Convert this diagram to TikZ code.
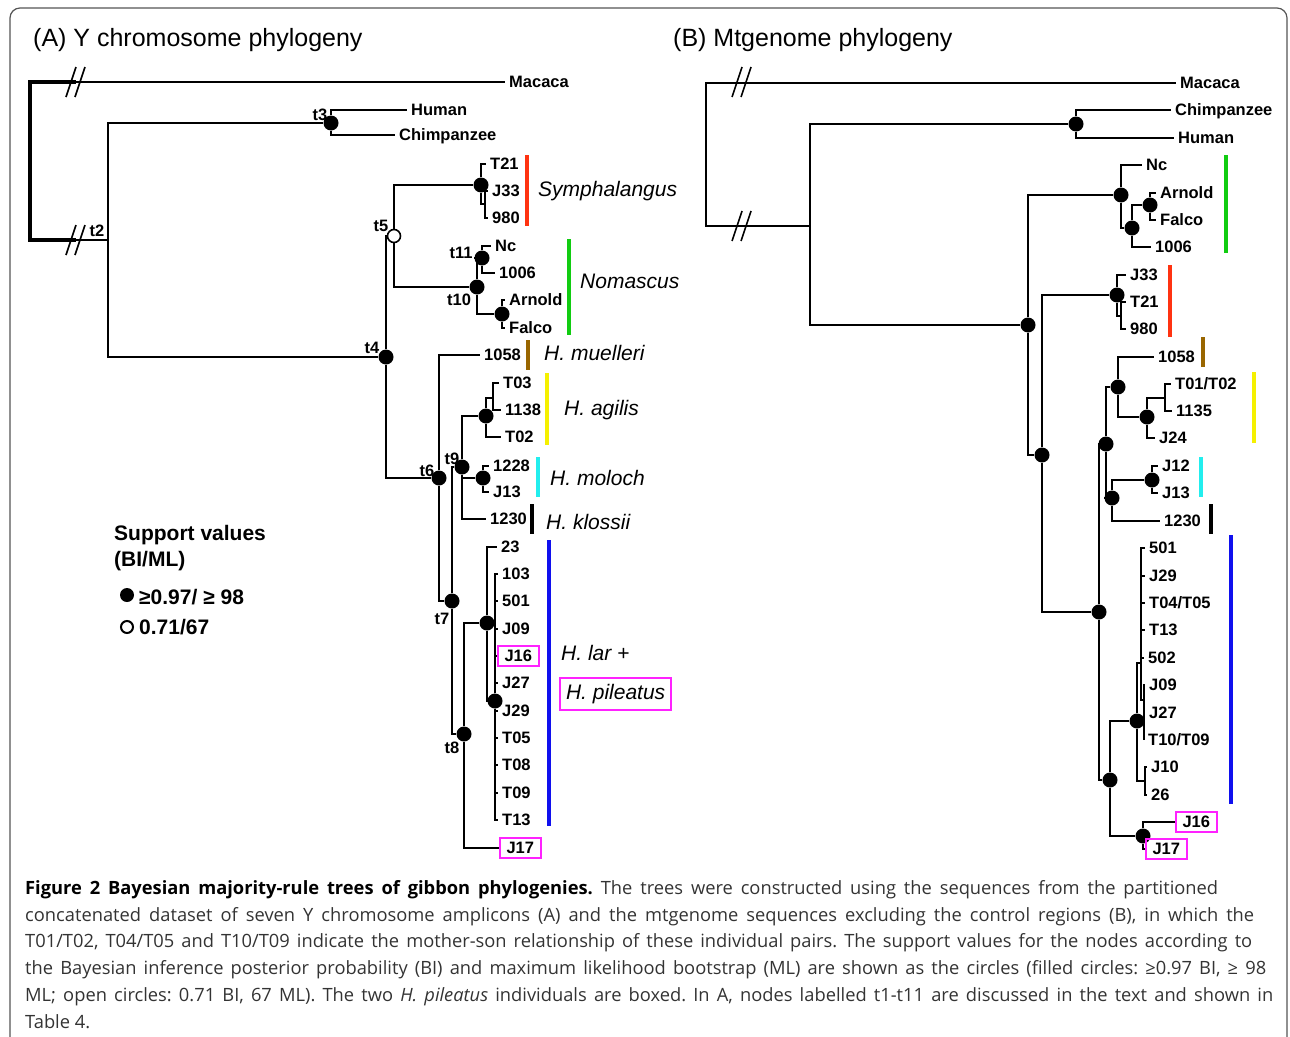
\documentclass[tikz,border=0pt]{standalone}
\usepackage{fontspec}
\setmainfont{Liberation Sans}
\newfontfamily\capfamily{Open Sans}
\newcommand\tipfont{\fontsize{16.5}{18}\selectfont\bfseries}
\newcommand\spcfont{\fontsize{21}{24}\selectfont\itshape}
\newcommand\ttlfont{\fontsize{25}{28}\selectfont}
\newcommand\legfont{\fontsize{21}{26}\selectfont\bfseries}
\newcommand\capfont{\capfamily\fontsize{18.3}{26.8}\selectfont\frenchspacing}
\definecolor{symred}{HTML}{FF3311}
\definecolor{nomgreen}{HTML}{11CC11}
\definecolor{muebrown}{HTML}{996600}
\definecolor{agiyellow}{HTML}{F5F000}
\definecolor{molcyan}{HTML}{22EEEE}
\definecolor{larblue}{HTML}{1010EE}
\definecolor{pilpink}{HTML}{FF22FF}
\definecolor{framegray}{HTML}{555555}
\definecolor{captext}{HTML}{333333}
\tikzset{
  leaf/.style={font=\tipfont, anchor=west, inner xsep=4pt, inner ysep=0pt, text height=11.8pt, text depth=0pt},
  boxed/.style={leaf, draw=pilpink, line width=2pt, inner xsep=6.5pt, inner ysep=4.5pt},
  tlab/.style={font=\tipfont, inner sep=0pt},
  hit/.style={circle, fill=black, inner sep=0pt, minimum size=15pt},
  weak/.style={circle, draw=black, fill=white, line width=1.6pt, inner sep=0pt, minimum size=13pt},
  spc/.style={font=\spcfont, anchor=west, inner sep=0pt, text height=15pt, text depth=0pt},
  bar/.style={line width=4.5pt},
  brk/.style={line width=1.6pt},
  branch/.style={line width=2pt},
  capline/.style={font=\capfont, anchor=north west, inner sep=0pt, align=left, text=captext}
}
\begin{document}
\begin{tikzpicture}[x=1pt,y=-1pt]
\useasboundingbox (0,0) rectangle (1290,1036);
\draw[framegray, line width=1.2pt, rounded corners=10pt] (10,1050) -- (10,8) -- (1287,8) -- (1287,1050);

\node[font=\ttlfont, anchor=west, inner sep=0pt, text height=17.9pt, text depth=0pt] (ttlA) at (33,38) {(A) Y chromosome phylogeny};
\node[font=\ttlfont, anchor=west, inner sep=0pt, text height=17.9pt, text depth=0pt] (ttlB) at (673,38) {(B) Mtgenome phylogeny};

\coordinate (ra) at (30,161);
\coordinate (ba1) at (76,82);
\coordinate (ba2) at (76,240);
\coordinate (t2) at (108,240);
\node[hit] (t3) at (331,123) {};
\node[hit] (t4) at (386,357) {};
\node[weak] (t5) at (394,236) {};
\node[hit] (sym) at (481,185) {};
\coordinate (sy2) at (485,204);
\node[hit] (t10) at (477,287) {};
\node[hit] (t11) at (482,258) {};
\node[hit] (arn) at (502,314) {};
\node[hit] (t6) at (439,478) {};
\node[hit] (t7) at (452,601) {};
\node[hit] (t9) at (462,467) {};
\node[hit] (agi) at (486,416) {};
\coordinate (ag2) at (493,398);
\node[hit] (mol) at (483,478) {};
\node[hit] (t8) at (464,734) {};
\node[hit] (lar) at (487,623) {};
\node[hit] (la2) at (495,701) {};

\draw
  (505,82) node[leaf] (macA) {Macaca}
  (407,110) node[leaf] (humA) {Human}
  (395,135) node[leaf] (chiA) {Chimpanzee}
  (486,164) node[leaf] (T21A) {T21}
  (488,191) node[leaf] (J33A) {J33}
  (488,218) node[leaf] (s980A) {980}
  (491,246) node[leaf] (NcA) {Nc}
  (495,273) node[leaf] (s1006A) {1006}
  (505,300) node[leaf] (ArnA) {Arnold}
  (505,328) node[leaf] (FalA) {Falco}
  (480,355) node[leaf] (s1058A) {1058}
  (499,383) node[leaf] (T03A) {T03}
  (501,410) node[leaf] (s1138A) {1138}
  (501,437) node[leaf] (T02A) {T02}
  (489,466) node[leaf] (s1228A) {1228}
  (489,492) node[leaf] (J13A) {J13}
  (486,519) node[leaf] (s1230A) {1230}
  (497,547) node[leaf] (s23A) {23}
  (498,574) node[leaf] (s103A) {103}
  (498,601) node[leaf] (s501A) {501}
  (498,629) node[leaf] (J09A) {J09}
  (497,656) node[boxed] (J16A) {J16}
  (498,683) node[leaf] (J27A) {J27}
  (498,711) node[leaf] (J29A) {J29}
  (498,738) node[leaf] (T05A) {T05}
  (498,765) node[leaf] (T08A) {T08}
  (498,793) node[leaf] (T09A) {T09}
  (498,820) node[leaf] (T13A) {T13}
  (499,848) node[boxed] (J17A) {J17};

\draw
  (97,231) node[tlab] (lt2) {t2}
  (320,115) node[tlab] (lt3) {t3}
  (372,348) node[tlab] (lt4) {t4}
  (381,226) node[tlab] (lt5) {t5}
  (427,471) node[tlab] (lt6) {t6}
  (442,619) node[tlab] (lt7) {t7}
  (452,748) node[tlab] (lt8) {t8}
  (452,459) node[tlab] (lt9) {t9}
  (459,300) node[tlab] (lt10) {t10}
  (461,253) node[tlab] (lt11) {t11};

\begin{scope}[branch]
  \draw[line width=3.5pt] (ba1) -| (ra) |- (ba2);
  \draw (ba1) -- (macA);
  \draw (ba2) -- (t2);
  \draw (t2) |- (t3);
  \draw (t2) |- (t4);
  \draw (t3) |- (humA);
  \draw (t3) |- (chiA);
  \draw (t4) |- (t5);
  \draw (t4) |- (t6);
  \draw (t5) |- (sym);
  \draw (t5) |- (t10);
  \draw (sym) |- (T21A);
  \draw (sym) |- (sy2);
  \draw (sy2) |- (J33A);
  \draw (sy2) |- (s980A);
  \draw (t10) |- (t11);
  \draw (t10) |- (arn);
  \draw (t11) |- (NcA);
  \draw (t11) |- (s1006A);
  \draw (arn) |- (ArnA);
  \draw (arn) |- (FalA);
  \draw (t6) |- (s1058A);
  \draw (t6) |- (t7);
  \draw (t7) |- (t9);
  \draw (t7) |- (t8);
  \draw (t9) |- (agi);
  \draw (t9) |- (mol);
  \draw (t9) |- (s1230A);
  \draw (agi) |- (ag2);
  \draw (ag2) |- (T03A);
  \draw (ag2) |- (s1138A);
  \draw (agi) |- (T02A);
  \draw (mol) |- (s1228A);
  \draw (mol) |- (J13A);
  \draw (t8) |- (lar);
  \draw (t8) |- (J17A);
  \draw (lar) |- (s23A);
  \draw (lar) |- (la2);
  \draw (la2) |- (s103A);
  \draw (la2) |- (s501A);
  \draw (la2) |- (J09A);
  \draw (la2) |- (J16A);
  \draw (la2) |- (J27A);
  \draw (la2) |- (J29A);
  \draw (la2) |- (T05A);
  \draw (la2) |- (T08A);
  \draw (la2) |- (T09A);
  \draw (la2) |- (T13A);
\end{scope}

\draw[bar, symred] (527,155) -- (527,226);
\draw[bar, nomgreen] (569,239) -- (569,335);
\draw[bar, muebrown] (528,340) -- (528,370);
\draw[bar, agiyellow] (547,373) -- (547,445);
\draw[bar, molcyan] (538,457) -- (538,497);
\draw[bar, black, line width=3.5pt] (532,504) -- (532,534);
\draw[bar, larblue] (549,540) -- (549,826);

\draw
  (538,189) node[spc] (spSym) {Symphalangus}
  (580,281) node[spc] (spNom) {Nomascus}
  (544,353) node[spc] (spMue) {H. muelleri}
  (564,408) node[spc] (spAgi) {H. agilis}
  (550,478) node[spc] (spMol) {H. moloch}
  (546,522) node[spc] (spKlo) {H. klossii}
  (561,653) node[spc] (spLar) {H. lar +}
  (559,694) node[spc, draw=pilpink, line width=2pt, inner xsep=6pt, inner ysep=6pt, text depth=4.5pt] (spPil) {H. pileatus};

\node[font=\legfont, anchor=west, inner sep=0pt, align=left] (legT) at (114,548) {Support values\\(BI/ML)};
\node[hit, minimum size=14pt] (legF) at (127,595) {};
\node[font=\legfont, anchor=west, inner sep=0pt, text height=15pt, text depth=0pt] (legFt) at (139,597) {≥0.97/ ≥ 98};
\node[weak, minimum size=12pt, line width=2pt] (legO) at (127,627) {};
\node[font=\legfont, anchor=west, inner sep=0pt, text height=15pt, text depth=0pt] (legOt) at (139,627) {0.71/67};

\coordinate (rb) at (706,154);
\coordinate (bb1) at (742,82);
\coordinate (bb2) at (742,226);
\coordinate (b1) at (810,226);
\node[hit] (b2) at (1076,124) {};
\node[hit] (b3) at (1028,325) {};
\node[hit] (nom) at (1121,195) {};
\node[hit] (nm2) at (1132,228) {};
\node[hit] (arB) at (1150,205) {};
\node[hit] (b4) at (1042,455) {};
\node[hit] (syB) at (1117,295) {};
\coordinate (sb2) at (1121,316);
\node[hit] (b5) at (1099,612) {};
\node[hit] (b6) at (1106,444) {};
\node[hit] (b7) at (1118,387) {};
\node[hit] (agB) at (1147,417) {};
\coordinate (ag2B) at (1165,398);
\node[hit] (b8) at (1112,498) {};
\node[hit] (moB) at (1152,480) {};
\node[hit] (b9) at (1110,780) {};
\node[hit] (larB) at (1137,721) {};
\coordinate (lb1) at (1141,663);
\coordinate (lb2) at (1144,700);
\coordinate (lb3) at (1145,781);
\node[hit] (pilB) at (1143,836) {};

\draw
  (1176,83) node[leaf] (macB) {Macaca}
  (1171,110) node[leaf] (chiB) {Chimpanzee}
  (1174,138) node[leaf] (humB) {Human}
  (1142,165) node[leaf] (NcB) {Nc}
  (1156,193) node[leaf] (ArnB) {Arnold}
  (1156,220) node[leaf] (FalB) {Falco}
  (1151,247) node[leaf] (s1006B) {1006}
  (1126,275) node[leaf] (J33B) {J33}
  (1126,302) node[leaf] (T21B) {T21}
  (1126,329) node[leaf] (s980B) {980}
  (1154,357) node[leaf] (s1058B) {1058}
  (1171,384) node[leaf] (T01B) {T01/T02}
  (1172,411) node[leaf] (s1135B) {1135}
  (1155,438) node[leaf] (J24B) {J24}
  (1158,466) node[leaf] (J12B) {J12}
  (1158,493) node[leaf] (J13B) {J13}
  (1160,521) node[leaf] (s1230B) {1230}
  (1145,548) node[leaf] (s501B) {501}
  (1145,576) node[leaf] (J29B) {J29}
  (1145,603) node[leaf] (T04B) {T04/T05}
  (1145,630) node[leaf] (T13B) {T13}
  (1144,658) node[leaf] (s502B) {502}
  (1145,685) node[leaf] (J09B) {J09}
  (1145,713) node[leaf] (J27B) {J27}
  (1144,740) node[leaf] (T10B) {T10/T09}
  (1147,767) node[leaf] (J10B) {J10}
  (1147,795) node[leaf] (s26B) {26}
  (1175,822) node[boxed] (J16B) {J16}
  (1145,849) node[boxed] (J17B) {J17};

\begin{scope}[branch]
  \draw (rb) |- (macB);
  \draw (rb) |- (b1);
  \draw (b1) |- (b2);
  \draw (b1) |- (b3);
  \draw (b2) |- (chiB);
  \draw (b2) |- (humB);
  \draw (b3) |- (nom);
  \draw (b3) |- (b4);
  \draw (nom) |- (NcB);
  \draw (nom) |- (nm2);
  \draw (nm2) |- (arB);
  \draw (nm2) |- (s1006B);
  \draw (arB) |- (ArnB);
  \draw (arB) |- (FalB);
  \draw (b4) |- (syB);
  \draw (b4) |- (b5);
  \draw (syB) |- (J33B);
  \draw (syB) |- (sb2);
  \draw (sb2) |- (T21B);
  \draw (sb2) |- (s980B);
  \draw (b5) |- (b6);
  \draw (b5) |- (b9);
  \draw (b6) |- (b7);
  \draw (b6) |- (b8);
  \draw (b7) |- (s1058B);
  \draw (b7) |- (agB);
  \draw (agB) |- (ag2B);
  \draw (ag2B) |- (T01B);
  \draw (ag2B) |- (s1135B);
  \draw (agB) |- (J24B);
  \draw (b8) |- (moB);
  \draw (b8) |- (s1230B);
  \draw (moB) |- (J12B);
  \draw (moB) |- (J13B);
  \draw (b9) |- (larB);
  \draw (b9) |- (pilB);
  \draw (larB) |- (lb1);
  \draw (larB) |- (lb3);
  \draw (lb1) |- (s501B);
  \draw (lb1) |- (J29B);
  \draw (lb1) |- (T04B);
  \draw (lb1) |- (T13B);
  \draw (lb1) |- (s502B);
  \draw (lb1) |- (lb2);
  \draw (lb2) |- (J09B);
  \draw (lb2) |- (J27B);
  \draw (lb2) |- (T10B);
  \draw (lb3) |- (J10B);
  \draw (lb3) |- (s26B);
  \draw (pilB) |- (J16B);
  \draw (pilB) |- (J17B);
\end{scope}

\foreach \b in {ba1,ba2,bb1,bb2}
  \draw[brk] ([shift={(-10,15)}]\b) -- ([shift={(0,-15)}]\b)
             ([shift={(-1,15)}]\b) -- ([shift={(9,-15)}]\b);

\draw[bar, nomgreen] (1226,155) -- (1226,253);
\draw[bar, symred] (1170,265) -- (1170,337);
\draw[bar, muebrown] (1203,337) -- (1203,367);
\draw[bar, agiyellow] (1254,372) -- (1254,443);
\draw[bar, molcyan] (1201,457) -- (1201,497);
\draw[bar, black, line width=3.5pt] (1211,504) -- (1211,534);
\draw[bar, larblue] (1231,535) -- (1231,804);

\node[capline] (cap) at (25,880) {%
\makebox[1193pt][s]{\textbf{\color{black}Figure 2 Bayesian majority-rule trees of gibbon phylogenies.} The trees were constructed using the sequences from the partitioned}\\
\makebox[1229pt][s]{concatenated dataset of seven Y chromosome amplicons (A) and the mtgenome sequences excluding the control regions (B), in which the}\\
\makebox[1227pt][s]{T01/T02, T04/T05 and T10/T09 indicate the mother-son relationship of these individual pairs. The support values for the nodes according to}\\
\makebox[1241pt][s]{the Bayesian inference posterior probability (BI) and maximum likelihood bootstrap (ML) are shown as the circles (filled circles: ≥0.97 BI, ≥ 98}\\
\makebox[1248pt][s]{ML; open circles: 0.71 BI, 67 ML). The two \textit{H. pileatus} individuals are boxed. In A, nodes labelled t1-t11 are discussed in the text and shown in}\\
Table 4.};
\end{tikzpicture}
\end{document}
